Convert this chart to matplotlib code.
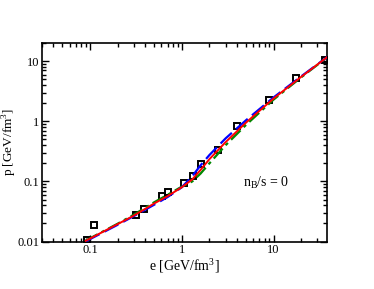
import matplotlib
matplotlib.use('Agg')
import matplotlib.pyplot as plt
from matplotlib.ticker import LogLocator, NullFormatter, FixedLocator, FixedFormatter

plt.rcParams['font.family'] = ['Liberation Serif', 'DejaVu Serif']
plt.rcParams['mathtext.fontset'] = 'custom'
plt.rcParams['mathtext.rm'] = 'Liberation Serif'

# lattice points (open squares)
lat_e = [0.092, 0.111, 0.318, 0.39, 0.61, 0.70, 1.05, 1.32, 1.62, 2.45, 4.03, 8.8, 17.4, 36.0]
lat_p = [0.0107, 0.0188, 0.0275, 0.0346, 0.058, 0.067, 0.094, 0.124, 0.197, 0.337, 0.825, 2.24, 5.28, 10.5]

# EOS curves
curve_e = [0.09, 0.2, 0.3, 0.5, 0.7, 1.0, 1.3, 1.6, 2.0, 3.0, 5.0, 10.0, 20.0, 40.0]
red_p = [0.0103, 0.0195, 0.027, 0.043, 0.057, 0.080, 0.108, 0.155, 0.235, 0.45, 0.95, 2.4, 5.5, 12.3]
blue_p = [0.0101, 0.0190, 0.0265, 0.041, 0.055, 0.080, 0.122, 0.185, 0.275, 0.52, 1.04, 2.5, 5.6, 12.3]
green_p = [0.0104, 0.0198, 0.028, 0.045, 0.060, 0.082, 0.100, 0.135, 0.20, 0.40, 0.87, 2.3, 5.4, 12.2]

fig = plt.figure(figsize=(3.74, 2.89), dpi=100)
fig.subplots_adjust(left=0.112, right=0.874, top=0.851, bottom=0.164)
ax = fig.gca()

ax.plot(lat_e, lat_p, 's', ms=5, mfc='none', mec='black', mew=1.4, zorder=2)
ax.plot(curve_e, green_p, color='#008800', ls=(0, (6, 2, 1.5, 2)), lw=1.6, zorder=3)
ax.plot(curve_e, blue_p, color='#0000ff', ls=(0, (7, 2.5)), lw=1.6, zorder=3)
ax.plot(curve_e, red_p, color='#ff0000', ls='-', lw=1.4, zorder=4)

ax.set_xscale('log')
ax.set_yscale('log')
ax.set_xlim(0.03, 38)
ax.set_ylim(0.01, 20)

ax.xaxis.set_major_locator(FixedLocator([0.1, 1, 10]))
ax.xaxis.set_major_formatter(FixedFormatter(['0.1', '1', '10']))
ax.yaxis.set_major_locator(FixedLocator([0.01, 0.1, 1, 10]))
ax.yaxis.set_major_formatter(FixedFormatter(['0.01', '0.1', '1', '10']))
ax.xaxis.set_minor_locator(LogLocator(base=10, subs=range(2, 10)))
ax.yaxis.set_minor_locator(LogLocator(base=10, subs=range(2, 10)))
ax.xaxis.set_minor_formatter(NullFormatter())
ax.yaxis.set_minor_formatter(NullFormatter())

ax.tick_params(which='both', direction='in', top=True, right=True, labelsize=9, pad=2)
ax.tick_params(which='major', length=5, width=1)
ax.tick_params(which='minor', length=3, width=1)
for s in ax.spines.values():
    s.set_linewidth(1.2)

ax.set_xlabel('e [GeV/fm$^3$]', fontsize=10, labelpad=0)
ax.set_ylabel('p [GeV/fm$^3$]', fontsize=9.5)
ax.yaxis.set_label_coords(-0.08, 0.5)
ax.text(0.786, 0.295, r'n$_\mathrm{B}$/s = 0', transform=ax.transAxes, fontsize=10, ha='center', va='center')

fig.savefig('out.png', dpi=100)
